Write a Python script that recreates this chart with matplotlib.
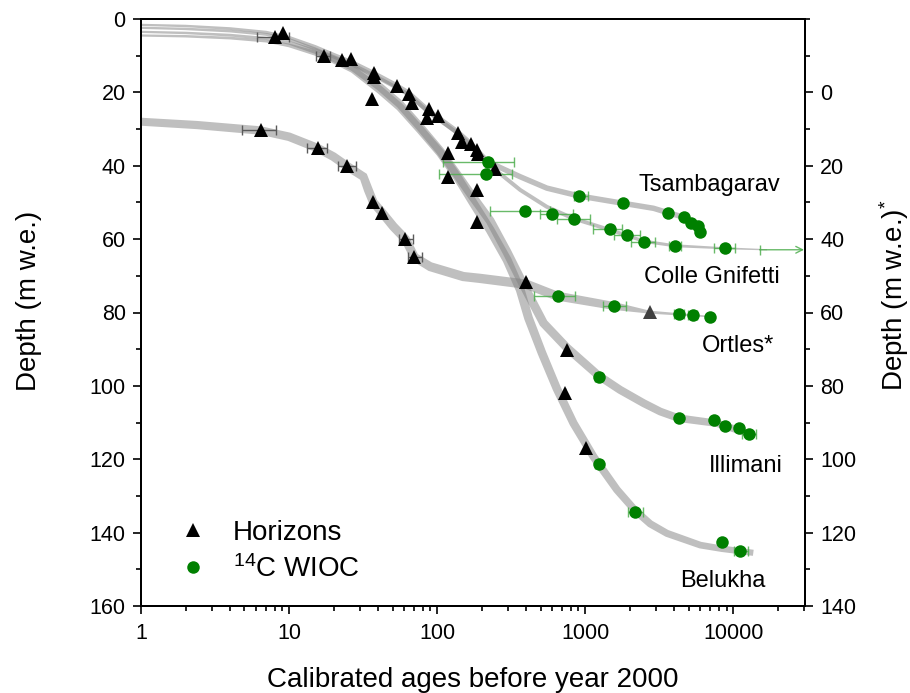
import numpy as np
import matplotlib
matplotlib.use("Agg")
import matplotlib.pyplot as plt
from matplotlib.patches import Polygon
from matplotlib.transforms import IdentityTransform
from matplotlib.lines import Line2D
from matplotlib.ticker import MultipleLocator, FixedLocator, FuncFormatter, NullFormatter, LogLocator

plt.rcParams['font.family'] = ['Liberation Sans', 'DejaVu Sans']
plt.rcParams['mathtext.fontset'] = 'custom'
plt.rcParams['mathtext.rm'] = 'Liberation Sans'
plt.rcParams['mathtext.it'] = 'Liberation Sans:italic'
plt.rcParams['mathtext.bf'] = 'Liberation Sans:bold'
plt.rcParams['mathtext.sf'] = 'Liberation Sans'
plt.rcParams['mathtext.default'] = 'regular'

# ---------------- data (ages in years before 2000, depth in m w.e.) ----------------
glaciers = ["Tsambagarav", "Colle Gnifetti", "Ortles*", "Illimani", "Belukha"]

# age-depth model curves
tsam_curve_age = [1, 2, 4, 7, 10, 15, 20, 27, 37, 52, 64, 87, 136, 167, 219, 364, 551, 901, 1722, 2896, 3622, 4615, 6146]
tsam_curve_depth = [1.6, 1.9, 2.6, 3.6, 5.0, 7.6, 9.8, 12.0, 14.8, 18.0, 20.2, 25.0, 30.7, 33.9, 38.9, 43.0, 46.1, 48.2, 50.1, 51.6, 52.8, 54.0, 57.5]

cg_curve_age = [1, 2, 4, 7, 10, 15, 20, 27, 37, 52, 64, 87, 136, 167, 240, 364, 551, 834, 1476, 2505, 4013, 8830, 16900]
cg_curve_depth = [2.4, 2.7, 3.3, 4.2, 5.6, 8.2, 10.3, 12.5, 15.3, 18.5, 20.6, 25.3, 31.0, 34.2, 40.7, 46.6, 51.2, 54.4, 57.5, 60.6, 61.8, 62.5, 62.9]

ill_curve_age = [1, 2, 4, 7, 10, 15, 20, 27, 41, 56, 77, 105, 137, 167, 228, 296, 383, 523, 752, 1000, 1230, 1722, 2477, 3213, 4270, 7762, 13650]
ill_curve_depth = [3.5, 3.8, 4.4, 5.3, 6.5, 8.8, 10.9, 13.3, 18.5, 23.2, 29.5, 36.0, 42.5, 47.5, 55.0, 63.5, 72.5, 82.9, 89.6, 94.0, 97.2, 101.1, 104.7, 107.0, 108.8, 110.2, 113.4]

bel_curve_age = [1, 2, 4, 7, 10, 15, 20, 27, 41, 56, 77, 105, 137, 175, 228, 297, 364, 414, 510, 644, 834, 1137, 1637, 2178, 2748, 3565, 5984, 8390, 13650]
bel_curve_depth = [4.5, 4.7, 5.2, 6.0, 7.2, 9.3, 11.3, 13.8, 19.3, 24.0, 30.2, 36.5, 43.1, 50.1, 57.5, 65.7, 73.8, 81.5, 91.0, 100.8, 110.2, 119.3, 128.3, 134.0, 137.6, 140.2, 143.4, 144.4, 145.5]

# Ortles on the right-hand axis (Depth*)
ort_curve_age = [1, 2.38, 6.44, 10, 15.6, 19.9, 24.8, 31.8, 34.3, 37.1, 42.5, 50.7, 61.1, 70.3, 89.7, 150, 195, 400, 644, 1553, 2718, 4296, 6918]
ort_curve_depth = [8, 8.9, 10.4, 12.1, 15.2, 17.5, 20.2, 23, 26.6, 30, 32.8, 36.6, 40, 44.9, 47.5, 50.2, 50.7, 52.3, 55.5, 58.2, 59.9, 60.5, 61.1]

# dated horizons (triangles)
tsam_hor_age = [9.1, 26.1, 53.4, 101, 147, 190]
tsam_hor_depth = [3.9, 11.0, 18.3, 26.4, 33.4, 36.8]
cg_hor_age = [22.9, 64.4, 88.7, 139, 169, 185, 247]
cg_hor_depth = [11.2, 20.5, 24.6, 31.0, 34.1, 35.7, 41.0]
ill_hor_age = [8.0, 37.5, 67.8, 118, 187, 752]
ill_hor_depth = [4.9, 14.6, 23.0, 36.4, 46.6, 90.2]
ill_hor_lo = [6.05, np.nan, np.nan, np.nan, np.nan, np.nan]
ill_hor_hi = [10.05, np.nan, np.nan, np.nan, np.nan, np.nan]
bel_hor_age = [17.1, 37.5, 36.2, 86, 118, 185, 725, 1011]
bel_hor_depth = [10.1, 15.9, 21.9, 27.1, 43.0, 55.2, 102.0, 117.0]
bel_hor_lo = [15.1, np.nan, np.nan, np.nan, np.nan, np.nan, np.nan, np.nan]
bel_hor_hi = [18.9, np.nan, np.nan, np.nan, np.nan, np.nan, np.nan, np.nan]
ort_hor_age = [6.44, 15.6, 24.8, 37.1, 42.5, 61.1, 70.3, 399]
ort_hor_depth = [10.2, 15.2, 20.2, 30.0, 32.8, 40.0, 44.9, 51.6]
ort_hor_lo = [4.83, 13.2, 21.5, np.nan, np.nan, 55.1, 63.7, np.nan]
ort_hor_hi = [8.13, 18.1, 28.2, np.nan, np.nan, 68.5, 78.8, np.nan]
ort_hor2_age = [2718]          # grey triangle
ort_hor2_depth = [59.9]

# 14C WIOC dates (circles)
tsam_c14_age = [219, 911, 1798, 3622, 4669, 5177, 5771, 5986]
tsam_c14_depth = [39.0, 48.2, 50.2, 52.8, 54.0, 55.5, 56.4, 58.0]
tsam_c14_lo = [110, 834, np.nan, np.nan, np.nan, np.nan, np.nan, np.nan]
tsam_c14_hi = [331, 1043, np.nan, np.nan, np.nan, np.nan, np.nan, np.nan]

cg_c14_age = [213, 393, 601, 834, 1459, 1922, 2505, 4013, 8830]
cg_c14_depth = [42.2, 52.2, 53.1, 54.4, 57.3, 58.9, 60.8, 61.9, 62.5]
cg_c14_lo = [103, 226, 497, 644, 1127, 1553, 2036, 3656, 7361]
cg_c14_hi = [321, 580, 826, 1081, 1770, 2353, 2972, 4433, 10200]
cg_limit_age = [15060]         # lower age limit (arrow)
cg_limit_depth = [62.9]

ort_c14_age = [657, 1570, 4296, 5309, 6918]
ort_c14_depth = [55.4, 58.2, 60.5, 60.7, 61.1]
ort_c14_lo = [448, 1309, 3950, 4950, np.nan]
ort_c14_hi = [856, 1892, 4650, 5700, np.nan]

ill_c14_age = [1230, 4270, 7445, 8830, 10860, 12830]
ill_c14_depth = [97.5, 108.8, 109.4, 110.9, 111.4, 113.2]
ill_c14_lo = [1170, np.nan, np.nan, np.nan, np.nan, 11450]
ill_c14_hi = [1290, np.nan, np.nan, np.nan, np.nan, 14300]

bel_c14_age = [1230, 2178, 8390, 11150]
bel_c14_depth = [121.3, 134.5, 142.6, 145.1]
bel_c14_lo = [1170, 1944, np.nan, 10050]
bel_c14_hi = [1290, 2454, np.nan, 12500]

x_ticks = [1, 10, 100, 1000, 10000]
left_ticks = list(range(0, 161, 20))
right_ticks = list(range(0, 141, 20))

# ---------------- figure ----------------
W, H = 910, 693
fig = plt.figure(figsize=(W / 100, H / 100), dpi=100)
L, R, T, B = 141, 805, 19, 606
ax = fig.add_axes([L / W, 1 - B / H, (R - L) / W, (B - T) / H])
ax.set_xscale('log')
ax.set_xlim(1, 30500)
ax.set_ylim(160, 0)
ax2 = ax.twinx()
ax2.set_ylim(140, -20)

BAND = '#808080'


def band(axis, ages, depths, w_anchor_log, w_anchor_px, alpha=0.5, z=1):
    a = np.asarray(ages, float)
    d = np.asarray(depths, float)
    xy = axis.transData.transform(np.column_stack([a, d]))
    t = np.gradient(xy, axis=0)
    t /= np.linalg.norm(t, axis=1)[:, None]
    n = np.column_stack([-t[:, 1], t[:, 0]])
    w = np.interp(np.log10(a), w_anchor_log, w_anchor_px)[:, None] / 2.0
    poly = np.vstack([xy + n * w, (xy - n * w)[::-1]])
    p = Polygon(poly, closed=True, transform=IdentityTransform(), facecolor=BAND,
                edgecolor='none', alpha=alpha, zorder=z)
    axis.add_patch(p)
    p.set_clip_path(axis.patch)


band(ax, tsam_curve_age, tsam_curve_depth, [0, 1, 1.6, 3.8], [2.2, 3, 5.5, 5.5])
band(ax, cg_curve_age, cg_curve_depth, [0, 1, 1.6, 3.0, 3.6, 4.3], [2.2, 3, 4, 4, 3, 1])
band(ax, ill_curve_age, ill_curve_depth, [0, 0.9, 1.6, 2.5, 4.2], [2.2, 3, 8, 9, 7])
band(ax, bel_curve_age, bel_curve_depth, [0, 0.9, 1.6, 2.5, 4.2], [2.2, 3, 8, 9, 6])
band(ax2, ort_curve_age, ort_curve_depth, [0, 2.6, 3.19, 3.43, 3.84], [8, 9.5, 8, 3, 1.5])

TRI_ERR = '#5a5a5a'
GRN_ERR = '#4fae4f'


def err(lo, hi, x):
    lo = np.asarray(lo, float); hi = np.asarray(hi, float); x = np.asarray(x, float)
    return np.vstack([np.nan_to_num(x - lo, nan=0), np.nan_to_num(hi - x, nan=0)])


def plot_hor(axis, age, depth, lo=None, hi=None, color='black'):
    if lo is not None:
        axis.errorbar(age, depth, xerr=err(lo, hi, age), fmt='none', ecolor=TRI_ERR,
                      elinewidth=1.0, capsize=3.6, capthick=1.0, zorder=3)
    axis.plot(age, depth, linestyle='none', marker='^', markersize=10.5,
              color=color, markeredgewidth=0, zorder=4)


def plot_c14(axis, age, depth, lo=None, hi=None):
    if lo is not None:
        axis.errorbar(age, depth, xerr=err(lo, hi, age), fmt='none', ecolor=GRN_ERR,
                      elinewidth=1.0, capsize=3.6, capthick=1.0, alpha=0.85, zorder=3)
    axis.plot(age, depth, linestyle='none', marker='o', markersize=9,
              color='#008000', markeredgewidth=0, zorder=4)


plot_hor(ax, tsam_hor_age, tsam_hor_depth)
plot_hor(ax, cg_hor_age, cg_hor_depth)
plot_hor(ax, ill_hor_age, ill_hor_depth, ill_hor_lo, ill_hor_hi)
plot_hor(ax, bel_hor_age, bel_hor_depth, bel_hor_lo, bel_hor_hi)
plot_hor(ax2, ort_hor_age, ort_hor_depth, ort_hor_lo, ort_hor_hi)
plot_hor(ax2, ort_hor2_age, ort_hor2_depth, color='#404040')

plot_c14(ax, tsam_c14_age, tsam_c14_depth, tsam_c14_lo, tsam_c14_hi)
plot_c14(ax, cg_c14_age, cg_c14_depth, cg_c14_lo, cg_c14_hi)
plot_c14(ax, ill_c14_age, ill_c14_depth, ill_c14_lo, ill_c14_hi)
plot_c14(ax, bel_c14_age, bel_c14_depth, bel_c14_lo, bel_c14_hi)
plot_c14(ax2, ort_c14_age, ort_c14_depth, ort_c14_lo, ort_c14_hi)

# lower-limit age for Colle Gnifetti (arrow to the right)
ax.plot(cg_limit_age, cg_limit_depth, linestyle='none', marker='|', markersize=7.2,
        color=GRN_ERR, markeredgewidth=1.0, alpha=0.85, zorder=3)
ax.annotate('', xy=(ax.get_xlim()[1] * 0.985, cg_limit_depth[0]),
            xytext=(cg_limit_age[0], cg_limit_depth[0]),
            arrowprops=dict(arrowstyle='->', color=GRN_ERR, lw=1.0, alpha=0.85,
                            shrinkA=0, shrinkB=0, mutation_scale=12),
            annotation_clip=False, zorder=3)

# glacier labels
label_pos = [(0.8554, 0.7172), (0.8599, 0.5605), (0.8992, 0.4429), (0.9111, 0.2385), (0.8765, 0.0426)]
for name, (lx, ly) in zip(glaciers, label_pos):
    ax.text(lx, ly, name, transform=ax.transAxes, ha='center', va='center', fontsize=17, zorder=6)

# axes styling
for a in (ax, ax2):
    for s in a.spines.values():
        s.set_linewidth(1.4)

ax.xaxis.set_major_locator(FixedLocator(x_ticks))
ax.xaxis.set_major_formatter(FuncFormatter(lambda v, p: f'{v:g}'))
ax.xaxis.set_minor_locator(LogLocator(base=10, subs=np.arange(2, 10), numticks=20))
ax.xaxis.set_minor_formatter(NullFormatter())
ax.yaxis.set_major_locator(FixedLocator(left_ticks))
ax.yaxis.set_minor_locator(MultipleLocator(10))
ax.tick_params(which='both', direction='out', top=False, right=False, width=1.2)
ax.tick_params(which='major', length=6, labelsize=15.5, pad=5)
ax.tick_params(which='minor', length=3.5)
ax.tick_params(axis='x', which='major', pad=6)

ax2.yaxis.set_major_locator(FixedLocator(right_ticks))
ax2.yaxis.set_minor_locator(MultipleLocator(10))
ax2.tick_params(which='both', direction='out', width=1.2)
ax2.tick_params(which='major', length=6, labelsize=15.5, pad=5)
ax2.tick_params(which='minor', length=3.5)

ax.set_xlabel('Calibrated ages before year 2000', fontsize=20, labelpad=17)
ax.set_ylabel('Depth (m w.e.)', fontsize=20)
ax.yaxis.set_label_coords(-0.149, 0.52)
ax2.set_ylabel('Depth (m w.e.)$^{*}$', fontsize=20)
ax2.yaxis.set_label_coords(1.108, 0.53)

# legend
handles = [Line2D([], [], linestyle='none', marker='^', markersize=10.5, color='black', markeredgewidth=0),
           Line2D([], [], linestyle='none', marker='o', markersize=9, color='#008000', markeredgewidth=0)]
ax.legend(handles, ['Horizons', '$^{14}$C WIOC'], loc='lower left', bbox_to_anchor=(0.057, 0.039),
          frameon=False, fontsize=20, handlelength=1.0, handletextpad=0.95, borderpad=0,
          borderaxespad=0, labelspacing=0.35)

fig.savefig('out.png', dpi=100)
